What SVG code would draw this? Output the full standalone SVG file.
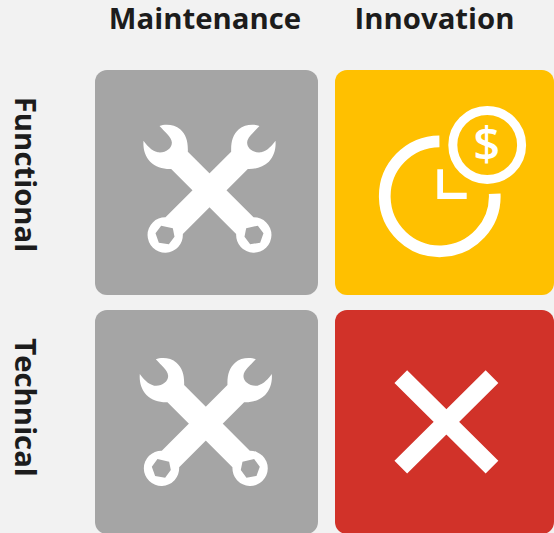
<svg xmlns="http://www.w3.org/2000/svg" xmlns:xlink="http://www.w3.org/1999/xlink" width="554" height="533" viewBox="0 0 554 533">
<style>
.lbl{font-family:"Open Sans",sans-serif;font-weight:700;font-size:29.330px;fill:#1c1c1c}
.ico{fill:none;stroke:#fff}
</style>
<defs>
<path id="wrench" fill="#fff" fill-rule="evenodd" transform="scale(0.3333) translate(-240 -240)" d="M90 48C105 42 135 42 152 58C170 74 176 95 175 125L372 322A53 53 0 1 1 320 372L125 177C100 178 78 170 62 155C46 138 40 115 42 92C52 105 65 122 85 127C108 130 128 115 127 97C126 80 105 65 90 48ZM350 355L385 347L402 370L392 398L362 403L345 380Z"/>
<g id="wrenches">
<use xlink:href="#wrench" href="#wrench"/>
<g transform="scale(-1 1)"><use xlink:href="#wrench" href="#wrench"/></g>
</g>
</defs>
<rect width="554" height="533" fill="#f2f2f2"/>
<g id="header-maintenance"><text class="lbl" x="205" y="29" text-anchor="middle">Maintenance</text></g>
<g id="header-innovation"><text class="lbl" x="434.500" y="29" text-anchor="middle">Innovation</text></g>
<g id="label-functional"><text class="lbl" transform="translate(15 174.500) rotate(90)" text-anchor="middle">Functional</text></g>
<g id="label-technical"><text class="lbl" transform="translate(15 407.500) rotate(90)" text-anchor="middle">Technical</text></g>
<g id="cell-functional-maintenance">
<rect x="95" y="70" width="223" height="225" rx="12" fill="#a5a5a5"/>
<use xlink:href="#wrenches" href="#wrenches" transform="translate(209.500 190)"/>
</g>
<g id="cell-functional-innovation">
<rect x="335" y="70" width="219" height="225" rx="12" fill="#ffc000"/>
<path class="ico" stroke-width="11.700" d="M439.400 141.300A55 55 0 1 0 494.700 193.700"/>
<path fill="#fff" d="M437.300 169.300H443V192.700H466.700V199H437.300Z"/>
<circle class="ico" cx="487.200" cy="145" r="34.400" stroke-width="9"/>
<text x="486.700" y="161" text-anchor="middle" font-family="'Open Sans',sans-serif" font-weight="600" font-size="47" fill="#fff">$</text>
</g>
<g id="cell-technical-maintenance">
<rect x="95" y="310" width="223" height="224" rx="12" fill="#a5a5a5"/>
<use xlink:href="#wrenches" href="#wrenches" transform="translate(205.800 423.300)"/>
</g>
<g id="cell-technical-innovation">
<rect x="335" y="310" width="219" height="224" rx="12" fill="#d13229"/>
<path class="ico" stroke-width="18" d="M400.800 376.700L492 467.200M492 376.700L400.800 467.200"/>
</g>
<g id="connectors"/>
</svg>
